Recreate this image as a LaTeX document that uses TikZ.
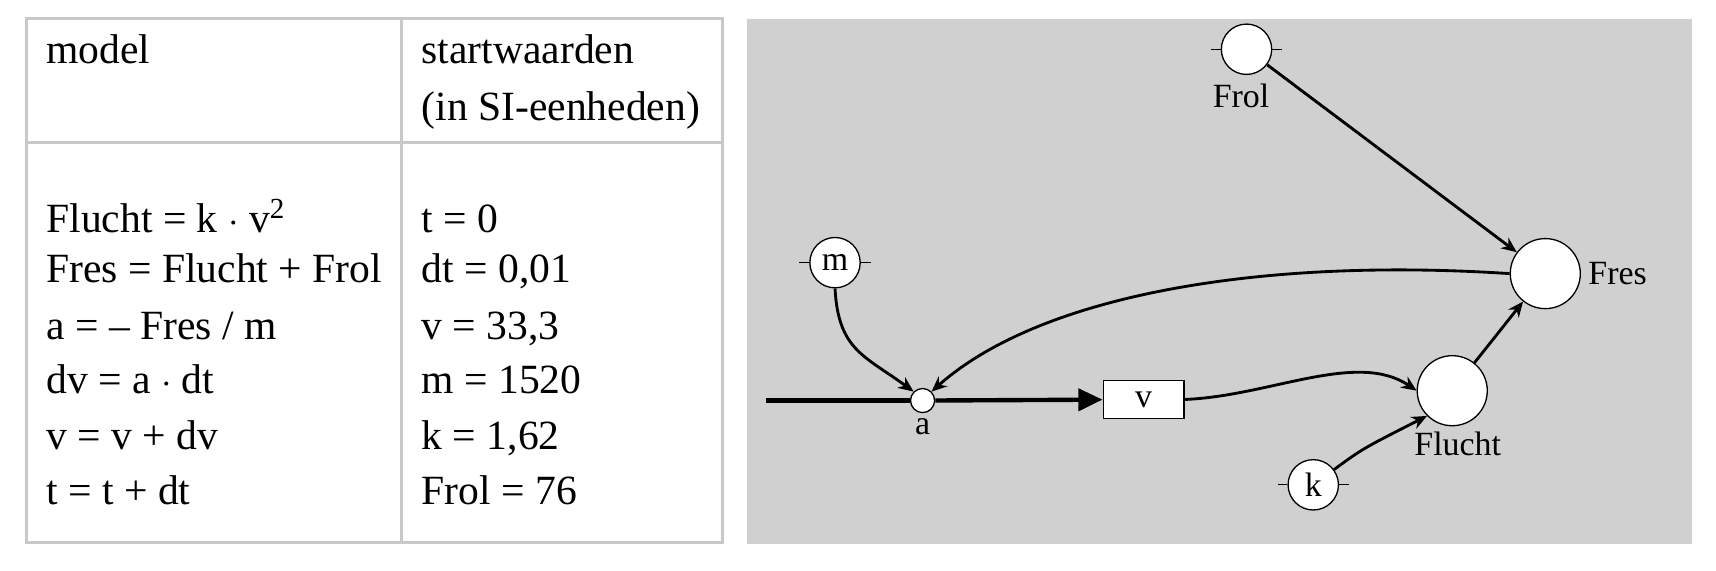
\documentclass[tikz,border=0pt]{standalone}
\usepackage{fontspec}
\setmainfont{Liberation Serif}
\usetikzlibrary{arrows.meta}
\begin{document}
\begin{tikzpicture}[x=0.5pt,y=-0.5pt,
  txt/.style={font=\fontsize{19}{21}\selectfont,anchor=base west,inner sep=0},
  lbl/.style={font=\fontsize{15.5}{17}\selectfont,inner sep=0},
  cst/.style={circle,draw,fill=white,line width=0.6pt,minimum size=23pt,inner sep=0,font=\fontsize{15.5}{17}\selectfont},
  aux/.style={circle,draw,fill=white,line width=0.6pt,minimum size=32pt,inner sep=0},
  conn/.style={line width=1.3pt,-{Stealth[length=7pt,width=6pt]}},
  tick/.style={line width=0.6pt}]
\useasboundingbox (0,0) rectangle (1568,521);
% table
\draw[line width=1.5pt,draw={rgb,255:red,200;green,200;blue,200}] (24,17) rectangle (660,496) (367,17) -- (367,496) (24,130) -- (660,130);
\node[txt] (h1) at (42,58) {model};
\node[txt] (h2) at (385,58) {startwaarden};
\node[txt] (h3) at (385,110) {(in SI-eenheden)};
\node[txt] (l1) at (42,212) {Flucht = k $\cdot$ v\textsuperscript{2}};
\node[txt] (l2) at (42,258) {Fres = Flucht + Frol};
\node[txt] (l3) at (42,310) {a = -- Fres / m};
\node[txt] (l4) at (42,360) {dv = a $\cdot$ dt};
\node[txt] (l5) at (42,411) {v = v + dv};
\node[txt] (l6) at (42,461) {t = t + dt};
\node[txt] (r1) at (385,212) {t = 0};
\node[txt] (r2) at (385,258) {dt = 0,01};
\node[txt] (r3) at (385,310) {v = 33,3};
\node[txt] (r4) at (385,360) {m = 1520};
\node[txt] (r5) at (385,411) {k = 1,62};
\node[txt] (r6) at (385,461) {Frol = 76};
% panel
\fill[fill={rgb,255:red,208;green,208;blue,208}] (683,17) rectangle (1546,497);
\coordinate (src) at (700,366);
\node[circle,draw,fill=white,line width=0.6pt,minimum size=11pt,inner sep=0] (a) at (843,366) {};
\node[lbl] (al) at (843,390) {a};
\node[draw,fill=white,line width=0.6pt,minimum width=37pt,minimum height=17.5pt,inner sep=0,font=\fontsize{15.5}{17}\selectfont] (v) at (1045,365) {v};
\node[cst] (m) at (763,240) {m};
\node[cst] (k) at (1200,443) {k};
\node[cst] (Frol) at (1139,45) {};
\node[lbl] (Froll) at (1134,88) {Frol};
\node[aux] (Fres) at (1412,250) {};
\node[lbl,anchor=west] (Fresl) at (1451,250) {Fres};
\node[aux] (Flucht) at (1327,357) {};
\node[lbl] (Fluchtl) at (1332,406) {Flucht};
\foreach \n in {m,k,Frol}{
  \draw[tick] (\n.west) -- ++(-9,0) (\n.east) -- ++(9,0);}
% flow
\draw[line width=2pt] (src) -- (a);
\draw[line width=2pt,-{Triangle[length=11pt,width=10pt]}] (a) -- (v);
% connectors
\draw[conn] (m.south) .. controls (766,320) and (790,325) .. (a.north west);
\draw[conn] (Fres.west) .. controls (1150,235) and (950,270) .. (a.north east);
\draw[conn] (v.east) .. controls (1160,362) and (1240,320) .. (Flucht.west);
\draw[conn] (k) .. controls (1245,410) .. (Flucht.south west);
\draw[conn] (Flucht) -- (Fres);
\draw[conn] (Frol) -- (Fres);
\end{tikzpicture}
\end{document}
